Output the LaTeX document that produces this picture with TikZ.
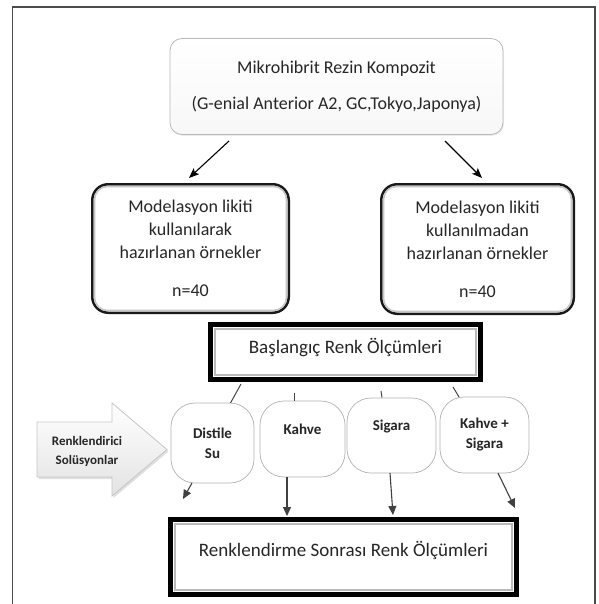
\documentclass[tikz,border=0pt]{standalone}
\usepackage{fontspec}
\setmainfont{Carlito}
\usetikzlibrary{arrows.meta,shadows}
\begin{document}
\begin{tikzpicture}[x=1pt,y=-1pt,
  every node/.style={text=black!85},
  topbox/.style={draw=gray!55, line width=0.8pt, rounded corners=12pt, top color=white, bottom color=gray!6, align=center, font=\fontsize{18}{22}\selectfont, drop shadow={opacity=0.15, shadow xshift=1pt, shadow yshift=-1.5pt}},
  modbox/.style={draw=black!90, line width=2.5pt, rounded corners=16pt, fill=white, align=center, font=\fontsize{18}{23}\selectfont},
  bevel/.style={gray!45, line width=1.6pt, rounded corners=13pt},
  boldbox/.style={draw=black, line width=5pt, fill=white, font=\fontsize{19}{23}\selectfont},
  innerline/.style={gray!55, line width=1.2pt},
  altbox/.style={draw=gray!60, line width=0.7pt, rounded corners=24pt, fill=white, align=center, font=\bfseries\fontsize{15}{20}\selectfont},
  link/.style={gray!55!black, line width=1pt},
  darr/.style={gray!50!black, line width=1.1pt, -{Triangle[length=9pt,width=8pt]}},
  tarr/.style={black, line width=1.1pt, -{Stealth[length=10pt,width=8pt,inset=2pt]}},
  bigarrow/.style={draw=gray!45, line width=0.8pt, top color=white, bottom color=gray!22, drop shadow={opacity=0.25, shadow xshift=1.5pt, shadow yshift=-2pt}}
]
\useasboundingbox (0,0) rectangle (598,604);
% frame
\draw[gray!60!black, line width=1.6pt] (12.5,604) -- (12.5,7) -- (595,7) -- (595,604);

% top box
\node[topbox, minimum width=333pt, minimum height=96pt] (top) at (336.5,86.5)
  {Mikrohibrit Rezin Kompozit\\[14pt](G-enial Anterior A2, GC,Tokyo,Japonya)};

% sample boxes
\node[modbox, minimum width=196.5pt, minimum height=128.5pt] (left) at (190.5,248.5)
  {Modelasyon likiti\\kullanılarak\\hazırlanan örnekler\\[15pt]n=40};
\node[modbox, minimum width=192.5pt, minimum height=129.5pt] (right) at (477.5,249)
  {Modelasyon likiti\\kullanılmadan\\hazırlanan örnekler\\[15pt]n=40};
\foreach \n in {left,right}
  \draw[bevel] ([shift={(3.5,3.5)}]\n.north west) rectangle ([shift={(-3.5,-3.5)}]\n.south east);

% top arrows
\coordinate (ta1) at (229,141); \coordinate (tb1) at (189,178);
\coordinate (ta2) at (445,141); \coordinate (tb2) at (482,178);
\draw[tarr] (ta1) -- (tb1);
\draw[tarr] (ta2) -- (tb2);

% initial measurement
\node[boldbox, minimum width=270pt, minimum height=55pt, text height=13pt, text depth=11pt] (bas) at (345.5,352)
  {Başlangıç Renk Ölçümleri};
\draw[innerline] ([shift={(7,7)}]bas.north west) rectangle ([shift={(-7,-7)}]bas.south east);

% solutions
\node[altbox, minimum width=83pt, minimum height=80pt] (dsu) at (212.5,443) {Distile\\Su};
\node[altbox, minimum width=85pt, minimum height=76pt] (kah) at (302.5,439) {Kahve\\\mbox{}};
\node[altbox, minimum width=89pt, minimum height=75pt] (sig) at (391.5,435.5) {Sigara\\\mbox{}};
\node[altbox, minimum width=89pt, minimum height=76pt] (kas) at (484.5,435) {Kahve +\\Sigara};

% short links
\coordinate (l1a) at (241,384); \coordinate (l1b) at (230.5,403);
\coordinate (l2a) at (294,393); \coordinate (l2b) at (294,400.5);
\coordinate (l3a) at (381,391); \coordinate (l3b) at (382,397.5);
\coordinate (l4a) at (453,387); \coordinate (l4b) at (459,397);
\draw[link] (l1a) -- (l1b);
\draw[link] (l2a) -- (l2b);
\draw[link] (l3a) -- (l3b);
\draw[link] (l4a) -- (l4b);

% final measurement
\node[boldbox, minimum width=346pt, minimum height=75pt, text height=13pt, text depth=15pt] (fin) at (343.5,557)
  {Renklendirme Sonrası Renk Ölçümleri};
\draw[innerline] ([shift={(7,7)}]fin.north west) rectangle ([shift={(-7,-7)}]fin.south east);

% down arrows
\coordinate (d1a) at (192,483); \coordinate (d1b) at (183,499);
\coordinate (d2a) at (287,477); \coordinate (d2b) at (287,516);
\coordinate (d3a) at (390,473); \coordinate (d3b) at (393,515);
\coordinate (d4a) at (498,473); \coordinate (d4b) at (515,508);
\draw[darr] (d1a) -- (d1b);
\draw[darr] (d2a) -- (d2b);
\draw[darr] (d3a) -- (d3b);
\draw[darr] (d4a) -- (d4b);

% big arrow
\draw[bigarrow] (37,422) -- (112,422) -- (112,403) -- (167,449.5) -- (112,496) -- (112,477) -- (37,477) -- cycle;
\node[font=\bfseries\fontsize{13}{19}\selectfont, align=center] (sol) at (87,451) {Renklendirici\\Solüsyonlar};
\end{tikzpicture}
\end{document}
